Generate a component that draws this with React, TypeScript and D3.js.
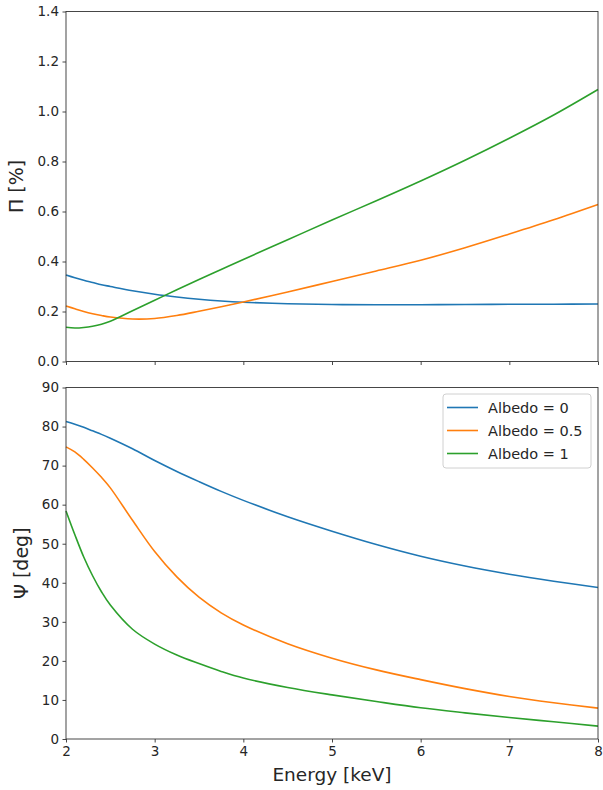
import React, { useEffect, useRef } from 'react';
import * as d3 from 'd3';

// energy grid in keV
const energy = [2, 2.1, 2.2, 2.3, 2.4, 2.5, 2.75, 3, 3.25, 3.5, 3.75, 4, 4.5, 5, 5.5, 6, 6.5, 7, 7.5, 8];

// polarization degree [%]
const piAlbedo0 = [0.346, 0.335, 0.325, 0.316, 0.307, 0.3, 0.283, 0.269, 0.258, 0.249, 0.242, 0.237, 0.231, 0.228, 0.227, 0.227, 0.228, 0.229, 0.229, 0.23];
const piAlbedo05 = [0.222, 0.211, 0.2, 0.191, 0.184, 0.178, 0.17, 0.172, 0.184, 0.201, 0.219, 0.238, 0.278, 0.32, 0.362, 0.405, 0.455, 0.51, 0.567, 0.628];
const piAlbedo1 = [0.137, 0.134, 0.136, 0.141, 0.149, 0.161, 0.203, 0.245, 0.287, 0.328, 0.368, 0.408, 0.487, 0.566, 0.643, 0.722, 0.805, 0.893, 0.986, 1.088];

// polarization angle [deg]
const psiAlbedo0 = [81.3, 80.6, 79.8, 78.9, 78.0, 77.0, 74.3, 71.3, 68.5, 65.9, 63.4, 61.1, 56.9, 53.2, 49.8, 46.8, 44.3, 42.2, 40.4, 38.8];
const psiAlbedo05 = [74.8, 73.5, 71.6, 69.4, 67.0, 64.3, 56.0, 48.0, 41.5, 36.3, 32.3, 29.2, 24.4, 20.7, 17.7, 15.2, 12.9, 10.9, 9.3, 7.9];
const psiAlbedo1 = [58.4, 52.3, 46.6, 41.8, 37.7, 34.3, 28.1, 24.3, 21.5, 19.3, 17.3, 15.6, 13.2, 11.3, 9.6, 8.0, 6.7, 5.5, 4.4, 3.3];

const labels = ['Albedo = 0', 'Albedo = 0.5', 'Albedo = 1'];
const colors = ['#1f77b4', '#ff7f0e', '#2ca02c'];

const xTicks = [2, 3, 4, 5, 6, 7, 8];
const piTicks = [0, 0.2, 0.4, 0.6, 0.8, 1.0, 1.2, 1.4];
const psiTicks = [0, 10, 20, 30, 40, 50, 60, 70, 80, 90];

function App() {
  const ref = useRef(null);

  useEffect(() => {
    const svg = d3.select(ref.current);
    svg.selectAll('*').remove();

    const left = 66, right = 598;
    const font = 'DejaVu Sans, sans-serif';
    const textColor = '#262626';

    const x = d3.scaleLinear().domain([2, 8]).range([left, right]);

    const drawPanel = (top, bottom, yMax, yTicks, series, fmt, yLabel, labelX, showX) => {
      const y = d3.scaleLinear().domain([0, yMax]).range([bottom, top]);
      const g = svg.append('g');

      const line = d3.line()
        .x((d, i) => x(energy[i]))
        .y(d => y(d))
        .curve(d3.curveCatmullRom.alpha(0.5));

      series.forEach((s, i) => {
        g.append('path')
          .attr('d', line(s))
          .attr('fill', 'none')
          .attr('stroke', colors[i])
          .attr('stroke-width', 1.6);
      });

      // frame
      g.append('rect')
        .attr('x', left).attr('y', top)
        .attr('width', right - left).attr('height', bottom - top)
        .attr('fill', 'none').attr('stroke', '#333').attr('stroke-width', 0.9);

      const yAxis = g.append('g')
        .attr('transform', `translate(${left},0)`)
        .call(d3.axisLeft(y).tickValues(yTicks).tickFormat(fmt).tickSize(3.5).tickPadding(3.5));
      const xAxis = g.append('g')
        .attr('transform', `translate(0,${bottom})`)
        .call(d3.axisBottom(x).tickValues(xTicks)
          .tickFormat(showX ? d3.format('d') : () => '')
          .tickSize(3.5).tickPadding(3.5));

      [yAxis, xAxis].forEach(a => {
        a.select('.domain').remove();
        a.selectAll('line').attr('stroke', '#333').attr('stroke-width', 0.9);
        a.selectAll('text')
          .attr('fill', textColor)
          .style('font-family', font)
          .style('font-size', '13.5px');
      });

      g.append('text')
        .attr('transform', `translate(${labelX},${(top + bottom) / 2}) rotate(-90)`)
        .attr('text-anchor', 'middle')
        .attr('fill', textColor)
        .style('font-family', font)
        .style('font-size', '19px')
        .text(yLabel);
      return g;
    };

    drawPanel(11.5, 361.5, 1.4, piTicks, [piAlbedo0, piAlbedo05, piAlbedo1], d3.format('.1f'), 'Π [%]', 23, false);
    const bottomPanel = drawPanel(387.5, 739, 90, psiTicks, [psiAlbedo0, psiAlbedo05, psiAlbedo1], d3.format('d'), 'Ψ [deg]', 28, true);

    svg.append('text')
      .attr('x', (left + right) / 2)
      .attr('y', 781)
      .attr('text-anchor', 'middle')
      .attr('fill', textColor)
      .style('font-family', font)
      .style('font-size', '18.5px')
      .text('Energy [keV]');

    // legend
    const lg = bottomPanel.append('g');
    lg.append('rect')
      .attr('x', 443).attr('y', 394)
      .attr('width', 148).attr('height', 74)
      .attr('rx', 3)
      .attr('fill', 'white').attr('fill-opacity', 0.8)
      .attr('stroke', '#d0d0d0').attr('stroke-width', 1);
    labels.forEach((lab, i) => {
      const yy = 407.5 + i * 23;
      lg.append('line')
        .attr('x1', 447).attr('x2', 478)
        .attr('y1', yy).attr('y2', yy)
        .attr('stroke', colors[i]).attr('stroke-width', 1.6);
      lg.append('text')
        .attr('x', 488).attr('y', yy)
        .attr('dy', '0.35em')
        .attr('fill', textColor)
        .style('font-family', font)
        .style('font-size', '14.5px')
        .text(lab);
    });
  }, []);

  return (
    <div>
      <svg ref={ref} width={603} height={790} style={{ position: 'absolute', left: 0, top: 0, background: 'white' }}></svg>
    </div>
  );
}

export default App;
